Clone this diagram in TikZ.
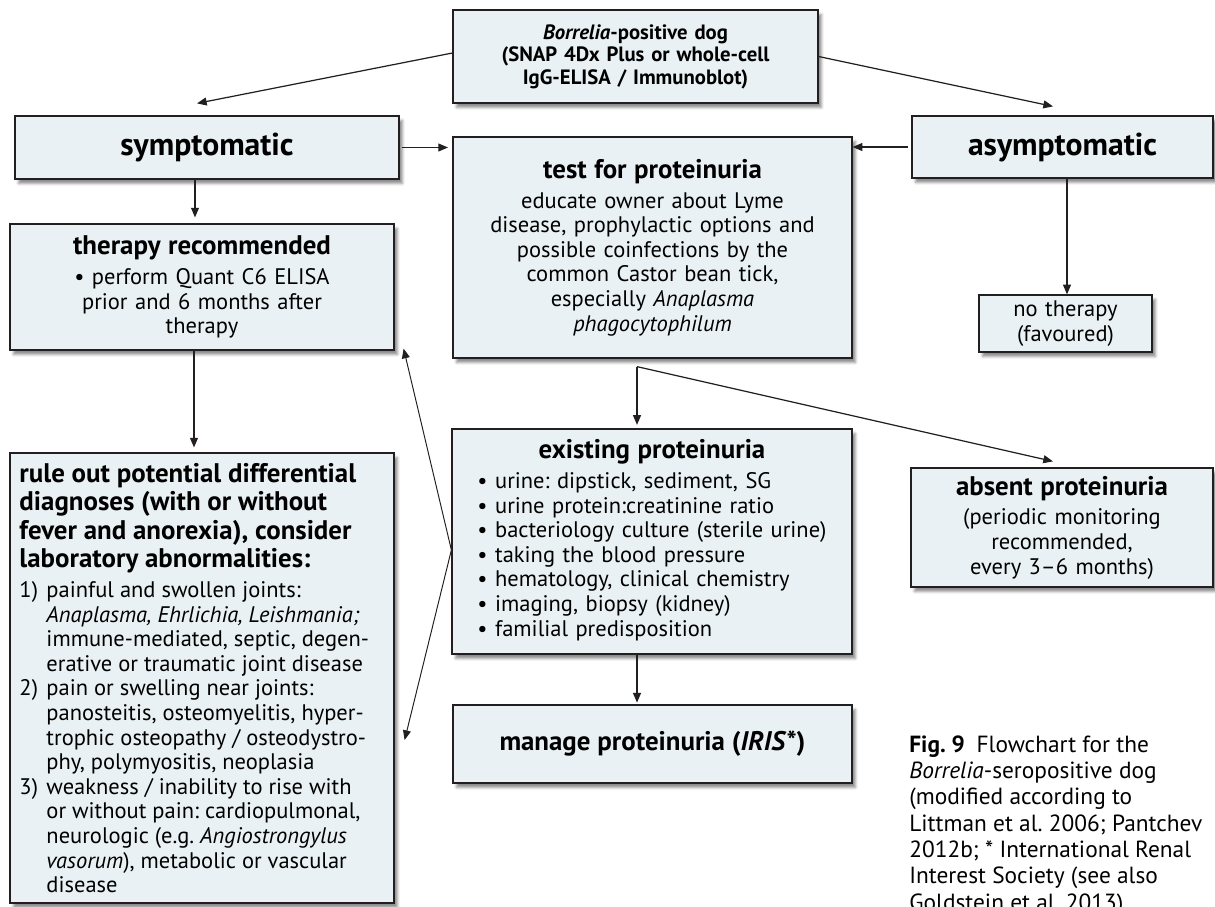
\documentclass[tikz,border=0pt]{standalone}
\usepackage{fontspec}
\setmainfont{PT Sans}
\usetikzlibrary{positioning, arrows.meta, calc, shadows.blur}
\frenchspacing

\definecolor{boxfill}{HTML}{E9F1F4}
\definecolor{boxline}{HTML}{231F20}

% fonts used inside the boxes
\newcommand{\bodyfont}{\fontsize{12.8}{14}\selectfont}
\newcommand{\headfont}{\fontsize{15.3}{16.2}\selectfont\bfseries}
\newcommand{\boxhead}[1]{{\headfont #1\par}\vspace{3pt}}
% hanging numbers in the differential list
\newcommand{\numitem}[1]{\makebox[1.2em][l]{#1}}
\newcommand{\numcont}{\hspace*{1.2em}}

\begin{document}
\begin{tikzpicture}[
    % Flowchart box (light blue with shadow)
    flowbox/.style={rectangle, draw=boxline, fill=boxfill, line width=0.7pt, inner sep=2pt,
        blur shadow={shadow xshift=2pt, shadow yshift=-2.5pt, shadow blur radius=1.5pt, shadow opacity=45},
        align=center, font=\bodyfont},
    % Arrow style
    arr/.style={-{Triangle[length=5.5pt,width=4.5pt]}, line width=0.7pt, draw=boxline},
]
\useasboundingbox (0,0) rectangle (24.3,-18.12);

% ============================================================
% Boxes
% ============================================================

% --- top: seropositive dog ---
\node[flowbox, minimum width=7.3cm, minimum height=1.86cm, text width=7cm,
      font=\fontsize{11.8}{12.8}\selectfont\bfseries] (dog) at (12.71,-1.13)
    {\textit{Borrelia}-positive dog\\(SNAP 4Dx Plus or whole-cell\\IgG-ELISA / Immunoblot)};

% --- symptomatic / asymptomatic ---
\node[flowbox, minimum width=7.68cm, minimum height=1.26cm,
      font=\fontsize{18}{20}\selectfont\bfseries] (symp) at (4.14,-2.95) {symptomatic};
\node[flowbox, minimum width=6.02cm, minimum height=1.24cm,
      font=\fontsize{18}{20}\selectfont\bfseries] (asymp) at (21.25,-2.94) {asymptomatic};

% --- test for proteinuria ---
\node[flowbox, minimum width=7.98cm, minimum height=4.42cm, text width=7.6cm] (test) at (13.05,-4.95)
    {\boxhead{test for proteinuria}
     educate owner about Lyme\\disease, prophylactic options and\\possible coinfections by the\\
     common Castor bean tick,\\especially \textit{Anaplasma}\\\textit{phagocytophilum}};

% --- therapy recommended ---
\node[flowbox, minimum width=7.68cm, minimum height=2.52cm, text width=7.3cm] (therapy) at (4.04,-5.74)
    {\boxhead{therapy recommended}
     \textbullet{} perform Quant C6 ELISA\\prior and 6 months after\\therapy};

% --- no therapy ---
\node[flowbox, minimum width=3.46cm, minimum height=1.14cm, text width=3.2cm] (nother) at (21.31,-6.47)
    {no therapy\\(favoured)};

% --- existing proteinuria ---
\node[flowbox, minimum width=8cm, minimum height=4.5cm, text width=7.6cm] (exist) at (13.04,-10.83)
    {\boxhead{existing proteinuria}
     \begin{tabular}{@{}l@{}}
     \textbullet{} urine: dipstick, sediment, SG\\
     \textbullet{} urine protein:creatinine ratio\\
     \textbullet{} bacteriology culture (sterile urine)\\
     \textbullet{} taking the blood pressure\\
     \textbullet{} hematology, clinical chemistry\\
     \textbullet{} imaging, biopsy (kidney)\\
     \textbullet{} familial predisposition
     \end{tabular}};

% --- absent proteinuria ---
\node[flowbox, minimum width=6.04cm, minimum height=2.38cm, text width=5.7cm] (absent) at (21.24,-10.55)
    {\boxhead{absent proteinuria}
     (periodic monitoring\\recommended,\\every 3--6 months)};

% --- manage proteinuria ---
\node[flowbox, minimum width=7.98cm, minimum height=1.56cm, font=\headfont] (manage) at (13.05,-14.88)
    {manage proteinuria (\textit{IRIS}*)};

% --- rule out differential diagnoses ---
\node[flowbox, minimum width=7.68cm, minimum height=9cm, text width=7.3cm, inner xsep=0.19cm,
      align=flush left] (rule) at (4.04,-13.56)
    {\boxhead{rule out potential differential\\diagnoses (with or without\\fever and anorexia), consider\\laboratory abnormalities:}
     \numitem{1)}painful and swollen joints:\\
     \numcont\textit{Anaplasma, Ehrlichia, Leishmania;}\\
     \numcont immune-mediated, septic, degen-\\
     \numcont erative or traumatic joint disease\\
     \numitem{2)}pain or swelling near joints:\\
     \numcont panosteitis, osteomyelitis, hyper-\\
     \numcont trophic osteopathy / osteodystro-\\
     \numcont phy, polymyositis, neoplasia\\
     \numitem{3)}weakness / inability to rise with\\
     \numcont or without pain: cardiopulmonal,\\
     \numcont neurologic (e.g. \textit{Angiostrongylus}\\
     \numcont\textit{vasorum}), metabolic or vascular\\
     \numcont disease};

% --- figure caption ---
\node[anchor=north west, inner sep=0pt, text width=6cm, align=flush left,
      font=\fontsize{13.3}{15}\selectfont] (caption) at (18.18,-14.70)
    {\textbf{Fig. 9}\hspace{0.5em}Flowchart for the\\\textit{Borrelia}-seropositive dog\\
     (modified according to\\Littman et al. 2006; Pantchev\\2012b; * International Renal\\
     Interest Society (see also\\Goldstein et al. 2013)};

% ============================================================
% Connections
% ============================================================

% top -> symptomatic / asymptomatic
\draw[arr] ([yshift=0.07cm]dog.west) -- ([xshift=-0.2cm,yshift=0.24cm]symp.north);
\draw[arr] (dog.east) -- ([xshift=-0.19cm,yshift=0.18cm]asymp.north);

% both sides -> test for proteinuria
\draw[arr, shorten <=1.5pt, shorten >=2.5pt] (symp.east) -- (symp.east -| test.west);
\draw[arr, shorten <=2pt] (asymp.west) -- (asymp.west -| test.east);

% left column
\draw[arr, shorten >=3.4pt] ([xshift=-0.24cm]symp.south) -- ([xshift=-0.24cm]symp.south |- therapy.north);
\draw[arr, shorten >=2.8pt] ([xshift=-0.16cm]therapy.south) -- ([xshift=-0.16cm]therapy.south |- rule.north);

% asymptomatic -> no therapy
\draw[arr] ([xshift=0.09cm]asymp.south) -- ([xshift=0.09cm]asymp.south |- nother.north);

% test -> existing / absent
\coordinate (split) at ([xshift=-0.31cm,yshift=-0.16cm]test.south);
\draw[arr, shorten >=2pt] (split) -- (split |- exist.north);
\draw[arr] (split) -- ([xshift=-0.18cm,yshift=0.12cm]absent.north);

% existing -> manage
\draw[arr, shorten >=1pt] ([xshift=-0.3cm]exist.south) -- ([xshift=-0.3cm]exist.south |- manage.north);

% existing -> back to the left column
\coordinate (back) at ([yshift=-0.17cm]exist.west);
\draw[arr, line width=0.55pt] (back) -- ([xshift=0.18cm,yshift=0.04cm]therapy.south east);
\draw[arr, line width=0.55pt] (back) -- ([xshift=0.2cm,yshift=-1.24cm]rule.east);

\end{tikzpicture}
\end{document}
